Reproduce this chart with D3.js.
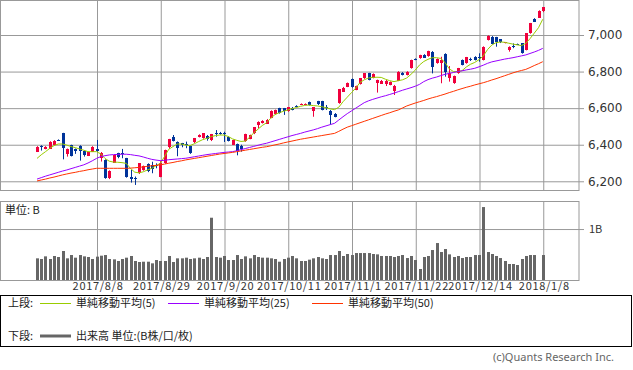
<!DOCTYPE html>
<html><head><meta charset="utf-8">
<script src="https://cdn.jsdelivr.net/npm/d3@7"></script>
<style>
body{margin:0;background:#fff}
svg{display:block}
text{font-family:"Noto Sans CJK JP","Noto Sans",sans-serif}
</style>
</head><body>
<svg id="c" width="633" height="370"></svg>
<script>
// ---- data ----
const opens = [6362,6395,6377,6380,6399,6427,6462,6350,6397,6377,6395,6368,6340,6362,6377,6331,6317,6217,6302,6353,
6355,6326,6226,6218,6244,6262,6295,6290,6287,6227,6300,6384,6444,6415,6408,6405,6395,6411,6442,6435,
6448,6422,6463,6464,6463,6443,6400,6404,6395,6418,6432,6460,6505,6518,6517,6547,6567,6599,6599,6583,
6603,6612,6620,6620,6632,6581,6637,6637,6607,6586,6570,6626,6692,6717,6758,6700,6731,6762,6790,6765,
6736,6734,6736,6727,6695,6750,6794,6781,6818,6868,6872,6892,6883,6909,6845,6845,6898,6760,6736,6790,
6863,6845,6869,6881,6878,6863,6972,6991,6987,6976,6956,6918,6942,6950,6954,6918,7009,7087,7096,7127];
const highs = [6392,6397,6392,6419,6425,6429,6465,6379,6400,6379,6397,6370,6362,6392,6426,6360,6320,6260,6348,6356,
6377,6328,6262,6226,6300,6286,6298,6307,6298,6310,6373,6432,6453,6418,6410,6417,6397,6437,6457,6464,
6453,6459,6480,6470,6471,6446,6428,6406,6400,6460,6455,6497,6528,6534,6540,6588,6592,6602,6601,6606,
6606,6616,6626,6626,6636,6606,6640,6640,6617,6590,6573,6705,6716,6740,6762,6723,6765,6792,6793,6790,
6756,6754,6754,6746,6727,6802,6797,6802,6865,6872,6892,6895,6914,6912,6872,6881,6900,6830,6778,6820,
6866,6880,6876,6884,6900,6938,6998,6994,6990,6978,6962,6938,6954,6953,6956,7011,7066,7092,7135,7153];
const lows = [6360,6368,6375,6378,6397,6423,6320,6335,6336,6350,6313,6335,6338,6360,6362,6308,6214,6212,6300,6326,
6326,6220,6193,6180,6240,6258,6250,6244,6271,6222,6296,6378,6418,6337,6386,6381,6350,6409,6440,6433,
6422,6420,6444,6455,6415,6418,6398,6342,6362,6416,6430,6458,6490,6516,6515,6545,6565,6570,6563,6580,
6588,6605,6618,6618,6614,6553,6617,6588,6590,6510,6550,6624,6690,6715,6712,6698,6729,6760,6752,6763,
6685,6732,6721,6725,6672,6748,6779,6779,6816,6862,6870,6875,6881,6790,6843,6736,6772,6745,6733,6788,
6834,6843,6858,6861,6854,6861,6970,6952,6936,6956,6954,6909,6928,6946,6898,6916,7007,7071,7094,7125];
const closes = [6390,6390,6390,6417,6422,6425,6380,6377,6339,6366,6368,6344,6360,6390,6366,6357,6217,6258,6344,6329,
6352,6222,6216,6214,6298,6284,6255,6266,6283,6302,6371,6430,6422,6380,6395,6402,6355,6435,6455,6462,
6432,6457,6460,6461,6460,6420,6426,6368,6380,6457,6453,6495,6524,6531,6537,6586,6590,6573,6581,6604,
6592,6609,6623,6623,6617,6604,6619,6590,6600,6563,6555,6703,6712,6737,6714,6721,6763,6790,6754,6788,
6752,6751,6751,6743,6723,6800,6781,6800,6863,6866,6889,6878,6910,6827,6869,6863,6800,6790,6776,6818,
6836,6878,6867,6863,6876,6936,6996,6954,6958,6958,6960,6936,6940,6948,6900,7009,7064,7073,7133,7151];
// volume in B (billions); null = no bar
const volumes = [0.425,0.412,0.464,0.412,0.471,0.451,0.569,0.425,0.490,0.438,0.490,0.464,0.451,0.412,0.458,0.477,0.490,0.412,0.405,0.373,
0.412,0.438,0.471,0.373,0.353,0.359,0.359,0.327,0.392,0.373,0.373,0.471,0.353,0.425,0.425,0.438,0.412,0.425,0.438,0.412,
0.451,1.222,0.451,0.438,0.471,0.392,0.392,0.490,0.412,0.464,0.425,0.490,0.451,0.438,0.438,0.425,0.412,0.359,0.412,0.438,
0.471,0.425,0.373,0.373,0.399,0.425,0.451,0.425,0.412,0.490,0.490,0.569,0.471,0.510,0.490,0.529,0.529,0.529,0.529,0.510,
0.503,0.471,0.471,0.471,0.451,0.471,0.490,0.431,0.471,0.392,0.216,0.451,0.471,0.588,0.725,0.549,0.608,0.503,0.451,0.471,
0.431,0.451,0.451,0.490,0.490,1.431,0.549,0.510,0.471,0.431,0.373,0.314,0.314,0.294,0.412,0.471,0.490,0.490,null,0.490];
const ma5 = [6325,6345,6362,6380,6395,6404,6404,6398,6390,6384,6377,6370,6362,6362,6362,6350,6325,6310,6305,6304,
6302,6298,6270,6250,6246,6252,6262,6271,6285,6298,6335,6375,6390,6404,6404,6398,6395,6405,6417,6428,
6435,6444,6450,6453,6453,6445,6432,6424,6418,6420,6440,6465,6485,6505,6520,6545,6565,6575,6583,6590,
6597,6603,6610,6615,6617,6614,6612,6608,6602,6596,6592,6605,6635,6660,6685,6710,6740,6755,6765,6768,
6769,6768,6758,6750,6745,6750,6755,6765,6785,6808,6836,6855,6867,6876,6876,6872,6850,6815,6800,6800,
6805,6825,6840,6850,6865,6885,6920,6945,6958,6962,6960,6955,6950,6946,6942,6954,6980,7010,7040,7086];
const ma25 = [6212,6220,6228,6235,6242,6249,6256,6262,6269,6276,6283,6290,6300,6312,6325,6335,6340,6344,6346,6347,
6348,6348,6346,6342,6339,6333,6326,6320,6316,6313,6315,6318,6320,6322,6324,6326,6330,6334,6338,6342,
6346,6349,6352,6355,6358,6360,6362,6367,6373,6379,6385,6391,6397,6403,6408,6415,6422,6429,6436,6443,
6450,6456,6462,6469,6475,6481,6488,6496,6503,6510,6517,6535,6553,6570,6585,6600,6615,6630,6640,6648,
6655,6662,6668,6675,6682,6690,6698,6705,6712,6720,6730,6745,6756,6764,6770,6778,6785,6790,6795,6800,
6804,6809,6813,6818,6826,6835,6845,6853,6858,6863,6868,6872,6876,6881,6886,6891,6899,6907,6916,6927];
const ma50 = [6202,6207,6212,6218,6223,6229,6235,6240,6245,6249,6254,6258,6263,6267,6271,6271,6271,6271,6271,6271,
6271,6271,6272,6274,6276,6279,6282,6285,6287,6290,6294,6299,6303,6308,6312,6317,6321,6325,6329,6333,
6337,6341,6345,6349,6352,6355,6358,6362,6366,6370,6374,6378,6382,6386,6389,6394,6399,6404,6410,6415,
6420,6425,6430,6434,6438,6442,6446,6450,6454,6458,6462,6473,6485,6496,6504,6512,6520,6528,6536,6544,
6552,6560,6568,6575,6583,6590,6601,6612,6620,6628,6635,6642,6650,6657,6663,6670,6677,6685,6692,6700,
6707,6714,6720,6727,6733,6739,6746,6754,6761,6769,6777,6785,6793,6800,6806,6812,6822,6833,6843,6854];
const tickIndex = [14,29,44,59,74,89,104,119];
const tickLabels = ["2017/8/8","2017/8/29","2017/9/20","2017/10/11","2017/11/1","2017/11/22","2017/12/14","2018/1/8"];
const priceTicks = [6200,6400,6600,6800,7000];
const volumeTicks = [1];
const legendTop = [{name:"単純移動平均(5)",color:"#99cc00"},{name:"単純移動平均(25)",color:"#9900ff"},{name:"単純移動平均(50)",color:"#ff3300"}];

// ---- layout ----
const svg = d3.select("#c");
const PL = 0, PR = 579;
const T1 = 0, B1 = 190, T2 = 201, B2 = 280;
const UP = "#f0003c", DOWN = "#003399", GRID = "#999";
const n = closes.length;
const idx = d3.range(n);

const x = d3.scaleLinear().domain([0, 119]).range([37, 542.75]);
const y = d3.scaleLinear().domain([6152.4, 7191.4]).range([B1, T1]);
const yv = d3.scaleLinear().domain([0, 1.55]).range([B2, T2]);
const px = i => Math.round(x(i));

// gridlines
function grid(g, yscale, yticks, top, bottom) {
  g.append("g").attr("transform", `translate(0,${bottom})`)
    .call(d3.axisBottom(x).tickValues(tickIndex).tickSize(-(bottom - top)).tickFormat(""))
    .call(s => s.select(".domain").remove())
    .selectAll("line").attr("stroke", GRID).attr("transform", "translate(0.5,0)");
  g.append("g").attr("transform", `translate(${PR},0)`)
    .call(d3.axisRight(yscale).tickValues(yticks).tickSize(-(PR - PL)).tickFormat(""))
    .call(s => s.select(".domain").remove())
    .selectAll("line").attr("stroke", GRID);
  g.append("rect").attr("x", PL + 0.5).attr("y", top + 0.5).attr("width", PR - PL - 0.5).attr("height", bottom - top)
    .attr("fill", "none").attr("stroke", GRID);
}
grid(svg.append("g"), y, priceTicks, T1, B1);
grid(svg.append("g"), yv, volumeTicks, T2, B2);

// right price axis
const ay = svg.append("g").attr("transform", `translate(${PR},0)`)
  .call(d3.axisRight(y).tickValues(priceTicks).tickSize(5).tickPadding(4).tickFormat(d3.format(",")));
ay.select(".domain").remove();
ay.selectAll("line").attr("stroke", GRID);
ay.selectAll("text").attr("font-size", 12).attr("fill", "#333").style("font-family", "'DejaVu Sans',sans-serif");

const av = svg.append("g").attr("transform", `translate(${PR},0)`)
  .call(d3.axisRight(yv).tickValues(volumeTicks).tickSize(5).tickPadding(5).tickFormat(d => d + "B"));
av.select(".domain").remove();
av.selectAll("line").attr("stroke", GRID);
av.selectAll("text").attr("font-size", 11).attr("fill", "#333");

// x labels
const ax = svg.append("g").attr("transform", `translate(0,${B2})`)
  .call(d3.axisBottom(x).tickValues(tickIndex).tickSize(0).tickPadding(2).tickFormat((d, i) => tickLabels[i]));
ax.select(".domain").remove();
ax.selectAll("text").attr("font-size", 11).attr("fill", "#333").attr("dx", 1)
  .style("letter-spacing", "0.7px");

// candles
const cg = svg.append("g");
cg.selectAll("line.w").data(idx).join("line")
  .attr("x1", i => px(i) + 0.5).attr("x2", i => px(i) + 0.5)
  .attr("y1", i => y(highs[i])).attr("y2", i => y(lows[i]))
  .attr("stroke", i => closes[i] >= opens[i] ? UP : DOWN).attr("stroke-width", 1);
cg.selectAll("rect").data(idx).join("rect")
  .attr("x", i => px(i) - 1).attr("width", 3)
  .attr("y", i => Math.round(y(Math.max(opens[i], closes[i]))))
  .attr("height", i => Math.max(1, Math.round(Math.abs(y(opens[i]) - y(closes[i])))))
  .attr("fill", i => closes[i] >= opens[i] ? UP : DOWN);

// moving averages
[[ma5, legendTop[0].color], [ma25, legendTop[1].color], [ma50, legendTop[2].color]].forEach(([arr, col]) => {
  svg.append("path").datum(idx)
    .attr("d", d3.line().x(i => x(i)).y(i => y(arr[i])))
    .attr("fill", "none").attr("stroke", col).attr("stroke-width", 1);
});

// volume bars
svg.append("g").selectAll("rect").data(idx.filter(i => volumes[i] != null)).join("rect")
  .attr("x", i => px(i) - 1).attr("width", 3)
  .attr("y", i => yv(volumes[i])).attr("height", i => B2 - yv(volumes[i]))
  .attr("fill", "#666");

svg.append("text").attr("x", 5).attr("y", 214).attr("font-size", 11).attr("fill", "#222").text("単位: B");

// legend
const lg = svg.append("g");
lg.append("rect").attr("x", 0.5).attr("y", 295.5).attr("width", 631).attr("height", 51)
  .attr("fill", "none").attr("stroke", "#000");
lg.append("text").attr("x", 8).attr("y", 307).attr("font-size", 11).attr("fill", "#222").text("上段:");
const lx = [40, 168, 312];
legendTop.forEach((d, k) => {
  lg.append("line").attr("x1", lx[k]).attr("x2", lx[k] + 31).attr("y1", 303.5).attr("y2", 303.5).attr("stroke", d.color);
  lg.append("text").attr("x", lx[k] + 36).attr("y", 307).attr("font-size", 11).attr("fill", "#222").text(d.name);
});
lg.append("text").attr("x", 8).attr("y", 340).attr("font-size", 11).attr("fill", "#222").text("下段:");
lg.append("line").attr("x1", 40).attr("x2", 71).attr("y1", 336).attr("y2", 336).attr("stroke", "#666").attr("stroke-width", 3);
lg.append("text").attr("x", 76).attr("y", 340).attr("font-size", 11).attr("fill", "#222").text("出来高 単位:(B株/口/枚)");

svg.append("text").attr("x", 614).attr("y", 361).attr("text-anchor", "end").attr("font-size", 11)
  .attr("fill", "#666").style("font-family", "'Noto Sans',sans-serif").text("(c)Quants Research Inc.");
</script>
</body></html>
